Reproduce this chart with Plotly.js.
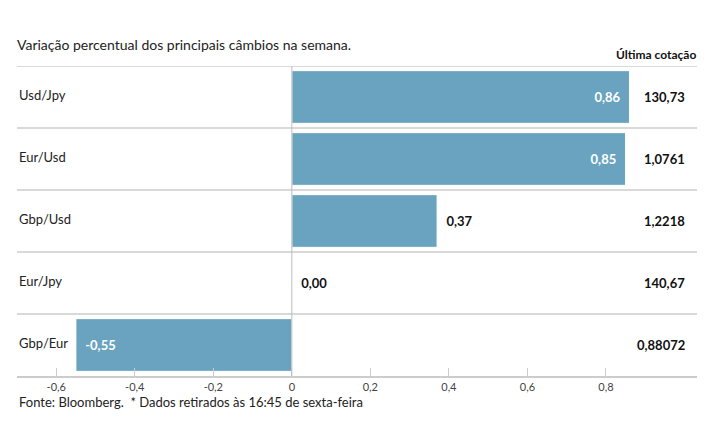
<!DOCTYPE html>
<html>
<head>
<meta charset="utf-8">
<script src="https://cdn.plot.ly/plotly-3.0.1.min.js"></script>
<style>
  body { margin: 0; background: #fff; }
  #chart { width: 715px; height: 445px; }
</style>
</head>
<body>
<div id="chart"></div>
<script>
// weekly change (%) of the main exchange rates, top to bottom
var pairs = ["Usd/Jpy", "Eur/Usd", "Gbp/Usd", "Eur/Jpy", "Gbp/Eur"];
var changes = [0.86, 0.85, 0.37, 0.00, -0.55];
var lastQuotes = ["130,73", "1,0761", "1,2218", "140,67", "0,88072"];
var tickValues = [-0.6, -0.4, -0.2, 0, 0.2, 0.4, 0.6, 0.8];
var tickLabels = ["-0,6", "-0,4", "-0,2", "0", "0,2", "0,4", "0,6", "0,8"];

var FONT = "Lato, 'Noto Sans', sans-serif";
var pad = "\u00a0\u00a0";

// label inside the bar when it's long enough, otherwise right after it
var positions = changes.map(v => Math.abs(v) > 0.4 ? "inside" : "outside");
var labels = changes.map((v, i) => {
  var s = v.toFixed(2).replace(".", ",");
  if (positions[i] == "inside") return v > 0 ? s + pad : pad + s;
  return pad + s;
});

var trace = {
  type: "bar",
  orientation: "h",
  y: pairs,
  x: changes,
  width: 0.85,
  text: labels,
  textposition: positions,
  insidetextanchor: "end",
  insidetextfont: {family: FONT, size: 13, color: "#ffffff", weight: "bold"},
  outsidetextfont: {family: FONT, size: 13, color: "#111111", weight: "bold"},
  cliponaxis: false,
  marker: {color: "#6aa3bf", line: {color: "#ffffff", width: 1}},
  hoverinfo: "none"
};

// row separators at the category boundaries
var shapes = [];
for (var i = 0; i <= pairs.length - 1; i++) {
  shapes.push({
    type: "line", xref: "paper", yref: "y",
    x0: 0, x1: 1, y0: i - 0.5, y1: i - 0.5,
    line: {color: "#cccccc", width: 1.5}, layer: "below"
  });
}
// zero line drawn over the bars' outline
shapes.push({
  type: "line", xref: "x", yref: "paper",
  x0: 0, x1: 0, y0: 0, y1: 1,
  line: {color: "#bdbdbd", width: 1}, layer: "above"
});

var annotations = [];
pairs.forEach((p, i) => {
  annotations.push({
    xref: "paper", yref: "y", x: 0, y: p, yshift: 2,
    text: p, showarrow: false, xanchor: "left", yanchor: "middle",
    font: {family: FONT, size: 13, color: "#222"}
  });
  annotations.push({
    xref: "paper", yref: "y", x: 0.986, y: p,
    text: lastQuotes[i], showarrow: false, xanchor: "right", yanchor: "middle",
    font: {family: FONT, size: 13, color: "#111", weight: "bold"}
  });
});
annotations.push({
  xref: "paper", yref: "paper", x: 1.002, y: 1, yshift: 2,
  text: "Última cotação", showarrow: false, xanchor: "right", yanchor: "bottom",
  font: {family: FONT, size: 12, color: "#111", weight: "bold"}
});
annotations.push({
  xref: "paper", yref: "paper", x: 0, y: -0.084,
  text: "Fonte: Bloomberg.  * Dados retirados às 16:45 de sexta-feira", showarrow: false,
  xanchor: "left", yanchor: "middle",
  font: {family: FONT, size: 13, color: "#222"}
});

var layout = {
  width: 715,
  height: 445,
  margin: {l: 17, r: 18, t: 66, b: 69},
  paper_bgcolor: "#ffffff",
  plot_bgcolor: "#ffffff",
  showlegend: false,
  separators: ",.",
  font: {family: FONT, size: 12, color: "#333"},
  title: {
    text: "Variação percentual dos principais câmbios na semana.",
    x: 0, xref: "paper", xanchor: "left",
    y: 1 - 45 / 445, yref: "container", yanchor: "middle",
    font: {family: FONT, size: 14, color: "#222"}
  },
  xaxis: {
    range: [-0.70, 1.032],
    tickvals: tickValues,
    ticktext: tickLabels,
    ticks: "inside",
    ticklen: 8,
    tickcolor: "#cccccc",
    showgrid: false,
    zeroline: false,
    showline: true,
    linecolor: "#cccccc",
    linewidth: 1.5,
    tickfont: {family: FONT, size: 11, color: "#444"},
    fixedrange: true
  },
  yaxis: {
    type: "category",
    range: [pairs.length - 0.5, -0.5],
    showticklabels: false,
    showgrid: false,
    zeroline: false,
    fixedrange: true
  },
  shapes: shapes,
  annotations: annotations,
  bargap: 0.15
};

Plotly.newPlot("chart", [trace], layout, {displayModeBar: false, staticPlot: true});
</script>
</body>
</html>
